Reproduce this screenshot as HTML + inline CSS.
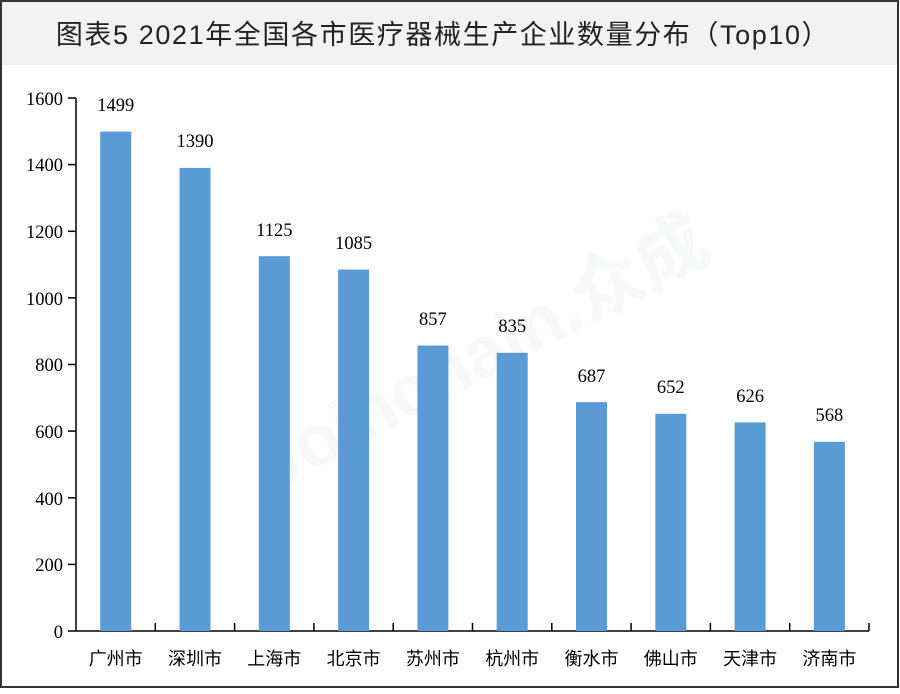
<!DOCTYPE html>
<html><head><meta charset="utf-8"><style>
body{margin:0;background:#fff}
</style></head><body>
<svg width="900" height="689" xmlns="http://www.w3.org/2000/svg" font-family="'Liberation Serif','Noto Serif CJK SC',serif">
<rect x="0" y="0" width="900" height="689" fill="#fff"/>
<rect x="1" y="1" width="897" height="64" fill="#f2f2f2"/>
<text x="443" y="44" text-anchor="middle" font-family="'Liberation Sans','Noto Sans CJK SC',sans-serif" font-size="27" letter-spacing="1.6" fill="#222">图表5  2021年全国各市医疗器械生产企业数量分布（Top10）</text>
<rect x="1" y="1" width="897" height="686" fill="none" stroke="#333" stroke-width="2"/>
<text x="470" y="380" text-anchor="middle" font-family="'Liberation Sans','Noto Sans CJK SC',sans-serif" font-size="72" font-weight="bold" fill="#eef2f6" opacity="0.5" transform="rotate(-28 470 330)">Joinchain.众成</text>
<g font-size="18.5" fill="#000" text-anchor="end">
<text x="63" y="105">1600</text><text x="63" y="171">1400</text><text x="63" y="238">1200</text><text x="63" y="305">1000</text><text x="63" y="371">800</text><text x="63" y="438">600</text><text x="63" y="505">400</text><text x="63" y="571">200</text><text x="63" y="638">0</text>
</g>
<g stroke="#000" stroke-width="1.5">
<line x1="76" y1="98" x2="76" y2="631"/>
<line x1="68" y1="631" x2="869" y2="631"/>
<line x1="68" y1="98" x2="76" y2="98"/><line x1="68" y1="164.6" x2="76" y2="164.6"/><line x1="68" y1="231.3" x2="76" y2="231.3"/><line x1="68" y1="297.9" x2="76" y2="297.9"/><line x1="68" y1="364.5" x2="76" y2="364.5"/><line x1="68" y1="431.1" x2="76" y2="431.1"/><line x1="68" y1="497.8" x2="76" y2="497.8"/><line x1="68" y1="564.4" x2="76" y2="564.4"/>
<line x1="155.3" y1="623" x2="155.3" y2="631"/><line x1="234.6" y1="623" x2="234.6" y2="631"/><line x1="313.9" y1="623" x2="313.9" y2="631"/><line x1="393.2" y1="623" x2="393.2" y2="631"/><line x1="472.5" y1="623" x2="472.5" y2="631"/><line x1="551.8" y1="623" x2="551.8" y2="631"/><line x1="631.1" y1="623" x2="631.1" y2="631"/><line x1="710.4" y1="623" x2="710.4" y2="631"/><line x1="789.7" y1="623" x2="789.7" y2="631"/><line x1="869" y1="623" x2="869" y2="631"/>
</g>
<g fill="#5b9bd5">
<rect x="100.2" y="131.6" width="31" height="499.4"/>
<rect x="179.5" y="167.9" width="31" height="463.1"/>
<rect x="258.8" y="256.2" width="31" height="374.8"/>
<rect x="338.1" y="269.5" width="31" height="361.5"/>
<rect x="417.4" y="345.5" width="31" height="285.5"/>
<rect x="496.7" y="352.8" width="31" height="278.2"/>
<rect x="576" y="402.1" width="31" height="228.9"/>
<rect x="655.3" y="413.8" width="31" height="217.2"/>
<rect x="734.6" y="422.4" width="31" height="208.6"/>
<rect x="813.9" y="441.8" width="31" height="189.2"/>
</g>
<g font-size="18.5" fill="#000" text-anchor="middle">
<text x="115.7" y="111">1499</text><text x="195" y="147">1390</text><text x="274.3" y="236">1125</text><text x="353.6" y="249">1085</text><text x="432.9" y="325">857</text><text x="512.2" y="332">835</text><text x="591.5" y="382">687</text><text x="670.8" y="393">652</text><text x="750.1" y="402">626</text><text x="829.4" y="421">568</text>
</g>
<g font-size="18" fill="#000" text-anchor="middle" font-family="'Liberation Sans','Noto Sans CJK SC',sans-serif">
<text x="115.7" y="665">广州市</text><text x="195" y="665">深圳市</text><text x="274.3" y="665">上海市</text><text x="353.6" y="665">北京市</text><text x="432.9" y="665">苏州市</text><text x="512.2" y="665">杭州市</text><text x="591.5" y="665">衡水市</text><text x="670.8" y="665">佛山市</text><text x="750.1" y="665">天津市</text><text x="829.4" y="665">济南市</text>
</g>
</svg>
</body></html>
